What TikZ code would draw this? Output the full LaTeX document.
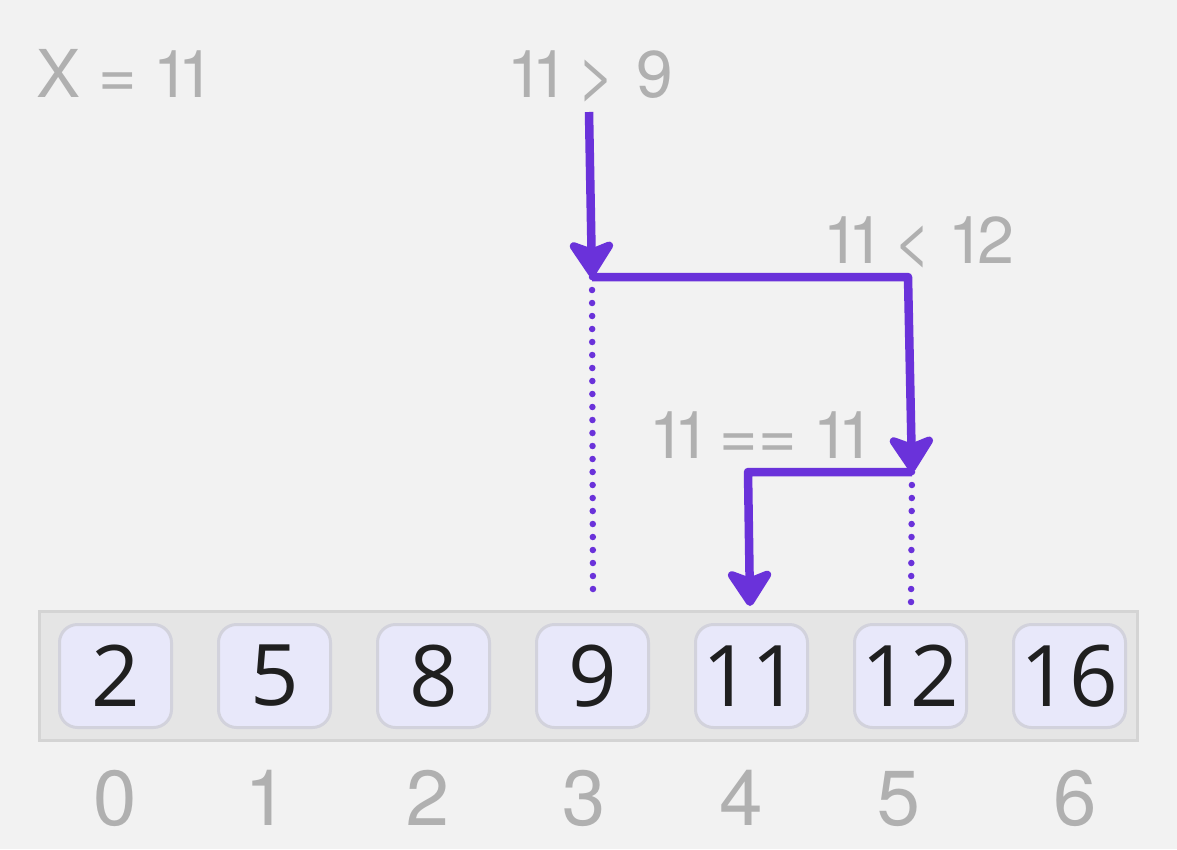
\documentclass[tikz,border=0pt]{standalone}
\usepackage{fontspec}
\setmainfont{TeX Gyre Heros}[Numbers=Proportional]
\newfontfamily\cellfont{Open Sans}
\usetikzlibrary{arrows.meta, positioning}

\definecolor{bgcol}{HTML}{F2F2F2}
\definecolor{arrcol}{HTML}{E5E5E5}
\definecolor{arredge}{HTML}{D4D4D4}
\definecolor{cellcol}{HTML}{E8E8FA}
\definecolor{celledge}{HTML}{D2D2DC}
\definecolor{labcol}{HTML}{B0B0B0}
\definecolor{pathcol}{HTML}{6A32DA}

\begin{document}
\begin{tikzpicture}[x=1pt,y=-1pt,
  cell/.style={draw=celledge, line width=3pt, fill=cellcol, rounded corners=18pt,
    minimum width=112pt, minimum height=103pt, inner sep=0pt,
    font=\cellfont\fontsize{85}{85}\selectfont, text=black!88},
  idx/.style={text=labcol, inner sep=0pt, anchor=base, font=\fontsize{78}{78}\selectfont},
  note/.style={text=labcol, inner sep=0pt, anchor=base west, font=\fontsize{66}{66}\selectfont},
  move/.style={draw=pathcol, line width=8.5pt, line join=round,
    -{Stealth[length=42pt,width=54pt,inset=10pt,round]}},
  probe/.style={draw=pathcol, line width=6.5pt, dash pattern=on 0pt off 13pt, line cap=round}]

  % canvas
  \fill[bgcol] (0,0) rectangle (1177,849);
  \useasboundingbox (0,0) rectangle (1177,849);

  % the array
  \node[draw=arredge, line width=3pt, fill=arrcol, minimum width=1098pt,
    minimum height=129pt, inner sep=0pt] (arr) at (588.5,676) {};
  \foreach \v [count=\i from 0] in {2,5,8,9,11,12,16}
    \node[cell] (c\i) at (115.5+159*\i,676) {\v};
  \foreach \x [count=\i from 0] in {115,262,427,583,741,898,1075}
    \node[idx] (i\i) at (\x,825) {\i};

  % comparisons
  \node[note] (goal) at (36,97) {X = 11};
  \node[note] (cmp1) at (509,97) {11 > 9};
  \node[note] (cmp2) at (825,263) {11 < 12};
  \node[note] (cmp3) at (651,458) {11 == 11};

  \coordinate (s0) at (589,112);
  \coordinate (k1) at (592,277);
  \coordinate (k2) at (908,277);
  \coordinate (k3) at (912,472);
  \coordinate (k4) at (748,472);
  \coordinate (t) at (750,606);
  \coordinate (d1) at (593,597);
  \coordinate (d2) at (911,604);

  \draw[probe] (k1) -- (d1);
  \draw[probe] (k3) -- (d2);

  \draw[move] (s0) -- (k1);
  \draw[move] (k1) -- (k2) -- (k3);
  \draw[move] (k3) -- (k4) -- (t);
\end{tikzpicture}
\end{document}
